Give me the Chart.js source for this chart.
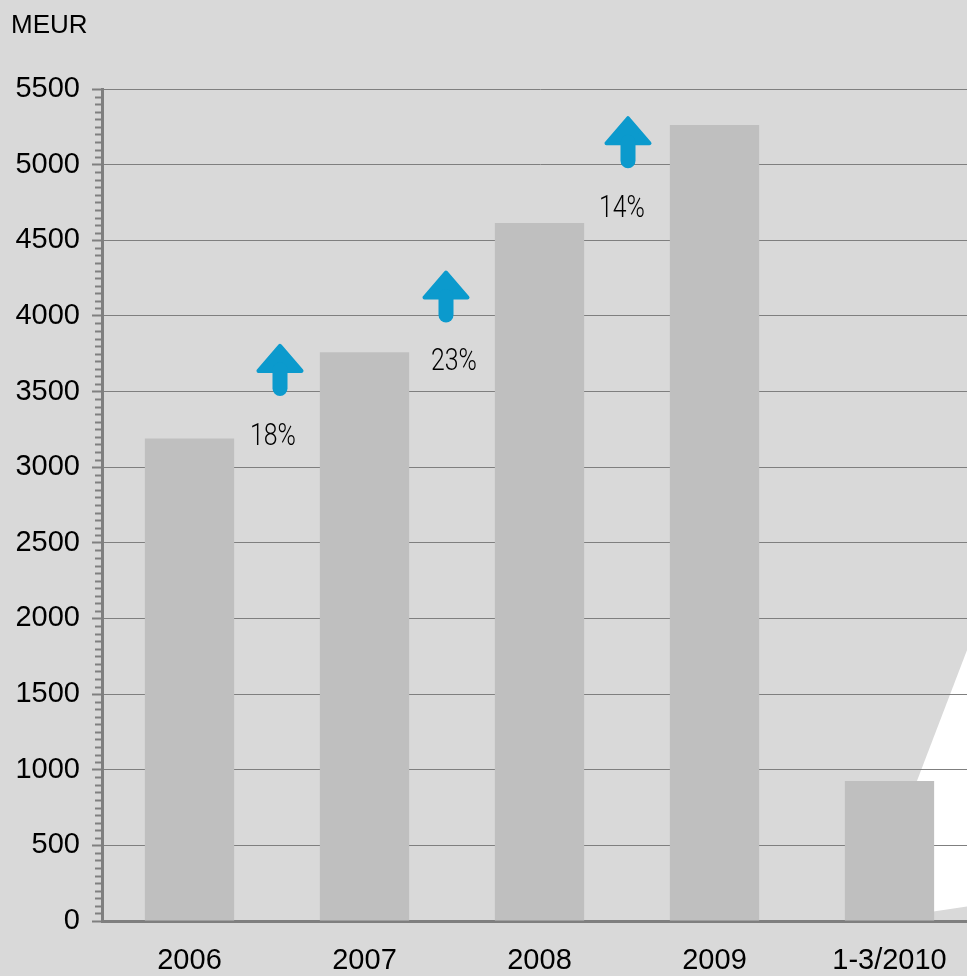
<!DOCTYPE html>
<html>
<head>
<meta charset="utf-8">
<script src="https://cdn.jsdelivr.net/npm/chart.js@4/dist/chart.umd.min.js"></script>
<style>
  html, body { margin: 0; padding: 0; background: #d9d9d9; overflow: hidden; }
  #wrap { width: 967px; height: 976px; overflow: hidden; }
  canvas { display: block; }
</style>
</head>
<body>
<div id="wrap"><canvas id="chart" width="977" height="976"></canvas></div>
<script>
const years = ['2006', '2007', '2008', '2009', '1-3/2010']
const revenue = [3190, 3760, 4615, 5262, 925]
const growth = ['18%', '23%', '14%']

const AXIS_GREY = '#7f7f7f'
const ARROW_BLUE = '#0b9acd'

// white wedge behind the last bar
const backdrop = {
  id: 'backdrop',
  beforeDraw(chart) {
    const ctx = chart.ctx
    ctx.save()
    ctx.fillStyle = '#ffffff'
    ctx.beginPath()
    ctx.moveTo(977, 624)
    ctx.lineTo(863, 922)
    ctx.lineTo(977, 905)
    ctx.closePath()
    ctx.fill()
    ctx.restore()
  },
}

// short minor ticks every 50 on the value axis, plus the unit label
const minorTicks = {
  id: 'minorTicks',
  afterDraw(chart) {
    const y = chart.scales.y
    const ctx = chart.ctx
    ctx.save()
    ctx.strokeStyle = AXIS_GREY
    ctx.lineWidth = 2
    for (let v = 0; v <= y.max; v += 50) {
      if (v % 500 === 0) continue
      const py = Math.round(y.getPixelForValue(v)) + 0.5
      ctx.beginPath()
      ctx.moveTo(y.right - 7, py)
      ctx.lineTo(y.right, py)
      ctx.stroke()
    }
    ctx.fillStyle = '#000'
    ctx.font = '26px "Liberation Sans", Arial, sans-serif'
    ctx.textBaseline = 'alphabetic'
    ctx.fillText('MEUR', 11, 33)
    ctx.restore()
  },
}

// growth arrows between the bars
const growthArrows = {
  id: 'growthArrows',
  afterDatasetsDraw(chart, args, opts) {
    const x = chart.scales.x
    const y = chart.scales.y
    const ctx = chart.ctx
    ctx.save()
    opts.items.forEach((item, i) => {
      const mid = x.getPixelForValue(i + 0.5)
      const cx = mid + item.dx
      const top = y.getPixelForValue(item.top)
      ctx.fillStyle = ARROW_BLUE
      ctx.strokeStyle = ARROW_BLUE
      ctx.lineJoin = 'round'
      ctx.lineWidth = 4
      ctx.beginPath()
      ctx.moveTo(cx, top + 2)
      ctx.lineTo(cx + 21.5, top + 27)
      ctx.lineTo(cx - 21.5, top + 27)
      ctx.closePath()
      ctx.fill()
      ctx.stroke()
      ctx.lineCap = 'round'
      ctx.lineWidth = 15
      ctx.beginPath()
      ctx.moveTo(cx, top + 26)
      ctx.lineTo(cx, top + 44.5)
      ctx.stroke()

      // condensed light label
      const lx = mid + item.labelDx
      const ly = y.getPixelForValue(item.label)
      ctx.save()
      ctx.translate(lx, ly)
      ctx.scale(0.8, 1)
      ctx.fillStyle = '#000'
      ctx.font = '300 31px Roboto, "Liberation Sans", sans-serif'
      ctx.textAlign = 'center'
      ctx.textBaseline = 'middle'
      ctx.fillText(growth[i], 0, 0)
      ctx.restore()
    })
    ctx.restore()
  },
}

new Chart(document.getElementById('chart'), {
  type: 'bar',
  data: {
    labels: years,
    datasets: [{
      data: revenue,
      backgroundColor: '#bfbfbf',
      borderWidth: 0,
      categoryPercentage: 1,
      barPercentage: 0.51,
    }],
  },
  options: {
    responsive: false,
    animation: false,
    layout: { padding: { top: 89, left: 0, right: 0, bottom: 0 } },
    scales: {
      x: {
        afterFit: (scale) => { scale.height = 55 },
        grid: { display: false, drawTicks: false },
        border: { display: true, color: AXIS_GREY, width: 3 },
        ticks: {
          color: '#000',
          padding: 23,
          font: { family: '"Liberation Sans", Arial, sans-serif', size: 29 },
        },
      },
      y: {
        min: 0,
        max: 5500,
        afterFit: (scale) => { scale.width = 102 },
        grid: { color: AXIS_GREY, lineWidth: 1, tickLength: 10, tickColor: AXIS_GREY, tickWidth: 2 },
        border: { display: true, color: AXIS_GREY, width: 3 },
        ticks: {
          stepSize: 500,
          color: '#000',
          padding: 12,
          callback: (value) => String(value),
          font: { family: '"Liberation Sans", Arial, sans-serif', size: 29 },
        },
      },
    },
    plugins: {
      legend: { display: false },
      tooltip: { enabled: false },
      growthArrows: {
        items: [
          { top: 3815, dx: 3, label: 3200, labelDx: -4 },
          { top: 4300, dx: -6, label: 3695, labelDx: 2 },
          { top: 5320, dx: 1, label: 4707, labelDx: -5 },
        ],
      },
    },
  },
  plugins: [backdrop, minorTicks, growthArrows],
})
</script>
</body>
</html>
